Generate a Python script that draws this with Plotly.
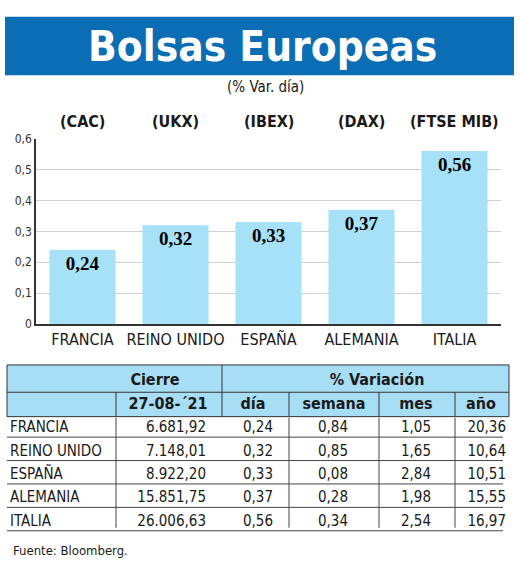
import plotly.graph_objects as go

W, H = 520, 568

# chart data
paises = ["FRANCIA", "REINO UNIDO", "ESPAÑA", "ALEMANIA", "ITALIA"]
indices = ["(CAC)", "(UKX)", "(IBEX)", "(DAX)", "(FTSE MIB)"]
var_dia = [0.24, 0.32, 0.33, 0.37, 0.56]
y_ticks = [0, 0.1, 0.2, 0.3, 0.4, 0.5, 0.6]
y_labels = ["0", "0,1", "0,2", "0,3", "0,4", "0,5", "0,6"]

# table data
cierre = [6681.92, 7148.01, 8922.20, 15851.75, 26006.63]
var_semana = [0.84, 0.85, 0.08, 0.28, 0.34]
var_mes = [1.05, 1.65, 2.84, 1.98, 2.54]
var_anio = [20.36, 10.64, 10.51, 15.55, 16.97]
fecha = "27-08-´21"

SANS = "Liberation Sans Narrow, DejaVu Sans Condensed, Roboto Condensed, Open Sans, sans-serif"
SERIF = "Liberation Serif, DejaVu Serif, serif"
BLUE = "#0b6db4"
LIGHT = "#a8def5"
INK = "#1a1a1a"


def px(x):
    return x / W


def py(y):
    return 1 - y / H


def num(v, d=2):
    s = f"{v:,.{d}f}"
    return s.replace(",", "X").replace(".", ",").replace("X", ".")


fig = go.Figure()

fig.add_trace(go.Bar(
    x=list(range(len(paises))), y=var_dia,
    width=0.71, marker=dict(color="#a6e1f7", line=dict(width=0)),
    texttemplate="%{y:.2f}", textposition="inside", insidetextanchor="end",
    textangle=0, textfont=dict(family=SERIF, size=19, color="#000000", weight="bold"),
    xaxis="x", yaxis="y", hoverinfo="skip",
))

# table text, positioned on a pixel-like overlay axis pair
row_y = [432 + 24 * i for i in range(len(paises))]
cols = [
    (paises, 10, "middle right"),
    ([num(v) for v in cierre], 206, "middle left"),
    ([num(v) for v in var_dia], 258, "middle center"),
    ([num(v) for v in var_semana], 333, "middle center"),
    ([num(v) for v in var_mes], 416, "middle center"),
    ([num(v) for v in var_anio], 506, "middle left"),
]
for texts, cx, pos in cols:
    fig.add_trace(go.Scatter(
        x=[cx] * len(texts), y=row_y, text=texts, mode="text",
        textposition=pos, textfont=dict(family=SANS, size=15, color=INK),
        xaxis="x2", yaxis="y2", hoverinfo="skip", cliponaxis=False,
    ))

head = [("Cierre", 155, 383), ("% Variación", 377, 383), (fecha, 168, 408),
        ("día", 253, 408), ("semana", 334, 408), ("mes", 416, 408), ("año", 481, 408)]
fig.add_trace(go.Scatter(
    x=[h[1] for h in head], y=[h[2] for h in head], text=[h[0] for h in head],
    mode="text", textposition="middle center",
    textfont=dict(family=SANS, size=16, color=INK, weight="bold"),
    xaxis="x2", yaxis="y2", hoverinfo="skip", cliponaxis=False,
))

shapes = [
    # title band
    dict(type="rect", xref="paper", yref="paper", x0=px(5), x1=px(514), y0=py(70), y1=py(10),
         fillcolor=BLUE, line=dict(width=0), layer="below"),
    # table header
    dict(type="rect", xref="x2", yref="y2", x0=7, x1=509, y0=367, y1=420,
         fillcolor=LIGHT, line=dict(color="#333", width=1), layer="below"),
    dict(type="line", xref="x2", yref="y2", x0=7, x1=509, y0=395, y1=395, line=dict(color="#333", width=1)),
    dict(type="line", xref="x2", yref="y2", x0=222, x1=222, y0=367, y1=420, line=dict(color="#333", width=1)),
]
for vx in [116, 289, 379, 455]:
    shapes.append(dict(type="line", xref="x2", yref="y2", x0=vx, x1=vx, y0=395, y1=420,
                       line=dict(color="#333", width=1)))
    shapes.append(dict(type="line", xref="x2", yref="y2", x0=vx, x1=vx, y0=421, y1=534,
                       line=dict(color="#444", width=1)))
for ry in row_y:
    shapes.append(dict(type="line", xref="x2", yref="y2", x0=7, x1=503, y0=ry + 9, y1=ry + 9,
                       line=dict(color="#444", width=1)))


def note(text, x, y, size, color=INK, bold=False, xanchor="center", xref="paper"):
    return dict(text=text, x=x, y=py(y), xref=xref, yref="paper", showarrow=False,
                xanchor=xanchor, yanchor="middle",
                font=dict(family=SANS, size=size, color=color, weight="bold" if bold else "normal"))


annotations = [
    note("Bolsas Europeas", px(262), 40, 42, color="white", bold=True),
    note("(% Var. día)", px(265), 82, 15),
    note("Fuente: Bloomberg.", px(11), 557, 13, xanchor="left"),
]
for i, idx in enumerate(indices):
    annotations.append(note(idx, i, 117, 16, bold=True, xref="x"))

fig.update_layout(
    width=W, height=H, margin=dict(l=0, r=0, t=0, b=0),
    paper_bgcolor="white", plot_bgcolor="rgba(0,0,0,0)", showlegend=False,
    separators=",.", shapes=shapes, annotations=annotations,
    xaxis=dict(domain=[px(36), px(501)], range=[-0.5, 4.5], tickvals=list(range(len(paises))),
               ticktext=paises, showgrid=False, zeroline=False, showline=True,
               linecolor="#333", linewidth=1.5, ticks="",
               tickfont=dict(family=SANS, size=16, color=INK)),
    yaxis=dict(domain=[py(325), py(135)], range=[0, 0.6], tickvals=y_ticks, ticktext=y_labels,
               showgrid=True, gridcolor="#d0d0d0", gridwidth=1, zeroline=False, showline=True,
               linecolor="#333", linewidth=1.5, ticks="",
               tickfont=dict(family=SANS, size=12, color="#333")),
    xaxis2=dict(domain=[0, 1], range=[0, W], visible=False, anchor="y2"),
    yaxis2=dict(domain=[0, 1], range=[H, 0], visible=False, anchor="x2"),
)

fig.write_html("out.html", config={"displayModeBar": False},
               post_script="document.body.style.margin = '0';")
